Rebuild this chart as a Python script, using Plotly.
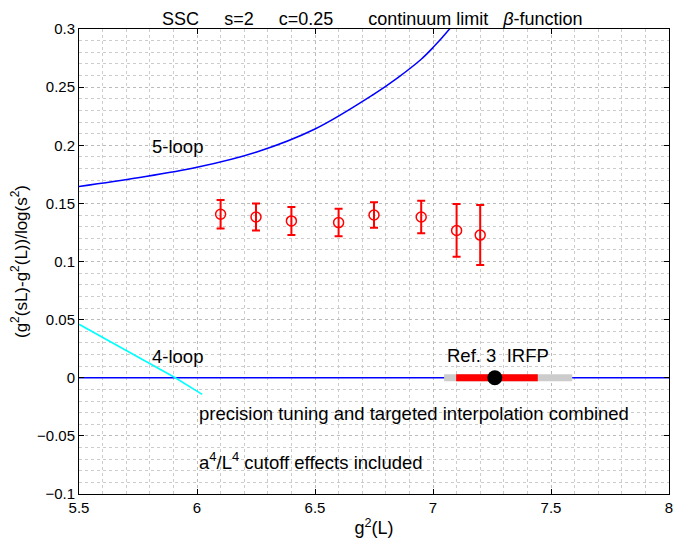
import plotly.graph_objects as go

# ---- data ----
g2_points = [6.10, 6.25, 6.40, 6.60, 6.75, 6.95, 7.10, 7.20]
beta_points = [0.1406, 0.1383, 0.1349, 0.1335, 0.1400, 0.1383, 0.1267, 0.1227]
beta_err = [0.0122, 0.0116, 0.0120, 0.0118, 0.0110, 0.0139, 0.0227, 0.0258]

loop5_x = [5.5, 5.75, 6.0, 6.25, 6.5, 6.75, 6.85, 6.95, 7.0, 7.07, 7.12]
loop5_y = [0.1645, 0.1720, 0.1810, 0.1940, 0.2140, 0.2440, 0.2580, 0.2740, 0.2840, 0.3000, 0.3130]

loop4_x = [5.5, 5.908, 6.022]
loop4_y = [0.046, 0.0, -0.0143]

zero_x = [5.5, 8.0]
zero_y = [0.0, 0.0]

irfp_gray = [7.047, 7.59]
irfp_red = [7.098, 7.444]
irfp_center = 7.262

x_range = [5.5, 8.0]
y_range = [-0.1, 0.3]

FONT = "Liberation Sans, Arial, Helvetica, sans-serif"
BLUE = "#0000ff"
RED = "#ff0000"

fig = go.Figure()

fig.add_trace(go.Scatter(x=zero_x, y=zero_y, mode="lines",
                         line=dict(color=BLUE, width=1.5), hoverinfo="skip"))
fig.add_trace(go.Scatter(x=loop5_x, y=loop5_y, mode="lines",
                         line=dict(color=BLUE, width=1.5, shape="spline", smoothing=1)))
fig.add_trace(go.Scatter(x=loop4_x, y=loop4_y, mode="lines",
                         line=dict(color="#00ffff", width=1.5)))
fig.add_trace(go.Scatter(x=irfp_gray, y=[0, 0], mode="lines",
                         line=dict(color="#cccccc", width=7)))
fig.add_trace(go.Scatter(x=irfp_red, y=[0, 0], mode="lines",
                         line=dict(color=RED, width=7)))
fig.add_trace(go.Scatter(x=[irfp_center], y=[0], mode="markers",
                         marker=dict(color="black", size=15)))
fig.add_trace(go.Scatter(
    x=g2_points, y=beta_points, mode="markers",
    marker=dict(symbol="circle-open", color=RED, size=10, line=dict(width=1.5, color=RED)),
    error_y=dict(type="data", array=beta_err, visible=True, color=RED, thickness=2, width=4),
))

annots = [
    dict(x=5.80, y=0.199, text="5-loop"),
    dict(x=5.80, y=0.0180, text="4-loop"),
    dict(x=7.052, y=0.019, text="Ref. 3  IRFP"),
    dict(x=6.0, y=-0.031, text="precision tuning and targeted interpolation combined"),
    dict(x=6.0, y=-0.072, text="a<sup>4</sup>/L<sup>4</sup> cutoff effects included"),
]
for a in annots:
    fig.add_annotation(x=a["x"], y=a["y"], text=a["text"], xref="x", yref="y",
                       xanchor="left", yanchor="middle", showarrow=False,
                       font=dict(family=FONT, size=18.5, color="black"))

axis_common = dict(
    showline=True, linecolor="black", linewidth=1, mirror="allticks",
    ticks="inside", ticklen=5, tickcolor="black",
    showgrid=True, gridcolor="#bbbbbb", griddash="dot", gridwidth=1,
    zeroline=False, tickfont=dict(family=FONT, size=15, color="black"),
)

fig.update_xaxes(range=x_range, dtick=0.5, tick0=5.5,
                 minor=dict(dtick=0.1, showgrid=True, gridcolor="#cccccc", griddash="dot", ticks=""),
                 title=dict(text="g<sup>2</sup>(L)", font=dict(family=FONT, size=18, color="black"), standoff=6),
                 **axis_common)
fig.update_yaxes(range=y_range, dtick=0.05, tick0=0,
                 minor=dict(dtick=0.01, showgrid=True, gridcolor="#cccccc", griddash="dot", ticks=""),
                 title=dict(text="(g<sup>2</sup>(sL)-g<sup>2</sup>(L))/log(s<sup>2</sup>)",
                            font=dict(family=FONT, size=17, color="black"), standoff=5),
                 **axis_common)

# the page body adds an 8px offset; margins compensate so the plot lands where the reference has it
fig.update_layout(
    width=698, height=549,
    margin=dict(l=69, r=37, t=17, b=63),
    paper_bgcolor="white", plot_bgcolor="white",
    showlegend=False,
    title=dict(text="SSC     s=2     c=0.25       continuum limit   <i>β</i>-function",
               x=0.522, xanchor="center", y=0.9805, yanchor="middle",
               font=dict(family=FONT, size=18, color="black")),
)

fig.write_html("out.html")
